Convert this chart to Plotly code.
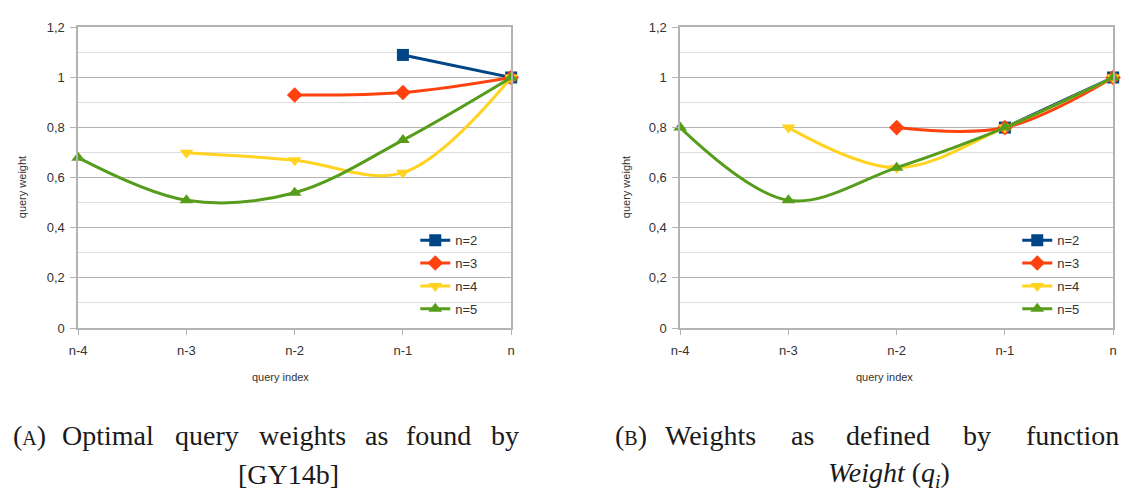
import plotly.graph_objects as go

W, H = 1129, 498

# ---- data ----
categories = ["n-4", "n-3", "n-2", "n-1", "n"]
series_names = ["n=2", "n=3", "n=4", "n=5"]
colors = ["#004586", "#ff420e", "#ffd320", "#579d1c"]
symbols = ["square", "diamond", "triangle-down", "triangle-up"]

# chart A: optimal query weights (values at the last k query positions)
a_n2 = [1.09, 1.0]
a_n3 = [0.93, 0.94, 1.0]
a_n4 = [0.70, 0.67, 0.62, 1.0]
a_n5 = [0.68, 0.51, 0.54, 0.75, 1.0]

# chart B: weights as defined by Weight(q_i)
b_n2 = [0.8, 1.0]
b_n3 = [0.8, 0.8, 1.0]
b_n4 = [0.8, 0.64, 0.8, 1.0]
b_n5 = [0.8, 0.51, 0.64, 0.8, 1.0]

y_ticks = [0, 0.2, 0.4, 0.6, 0.8, 1.0, 1.2]
y_ticktext = ["0", "0,2", "0,4", "0,6", "0,8", "1", "1,2"]

fig = go.Figure()

def add_series(values_list, xa, ya, legend, tag):
    for name, vals, col, sym in zip(series_names, values_list, colors, symbols):
        xs = list(range(len(categories) - len(vals), len(categories)))
        fig.add_trace(go.Scatter(
            x=xs, y=vals, name=name, mode="lines+markers",
            line=dict(color=col, width=3, shape="spline", smoothing=1),
            marker=dict(color=col, symbol=sym, size=12, line=dict(width=0)),
            xaxis=xa, yaxis=ya, legend=legend, legendgroup=tag + name,
            cliponaxis=False,
        ))

add_series([a_n2, a_n3, a_n4, a_n5], "x", "y", "legend", "a")
add_series([b_n2, b_n3, b_n4, b_n5], "x2", "y2", "legend2", "b")

def px_x(p):
    return p / W

def px_y(p):
    return 1 - p / H

grid_major = "#b3b3b3"
grid_minor = "#dedede"
axis_font = dict(family="Liberation Sans", size=13, color="#333333")

def xaxis(domain, anchor):
    return dict(domain=domain, anchor=anchor, range=[0, 4],
                tickmode="array", tickvals=list(range(len(categories))),
                ticktext=categories, showgrid=False, zeroline=False,
                showline=True, linecolor=grid_major, linewidth=1.5, mirror=True,
                ticks="outside", ticklen=5, tickcolor=grid_major,
                ticklabelstandoff=5,
                tickfont=axis_font, fixedrange=True)

def yaxis(anchor):
    return dict(domain=[px_y(331), px_y(21)], anchor=anchor, range=[0, 1.2],
                tickmode="array", tickvals=y_ticks, ticktext=y_ticktext,
                showgrid=True, gridcolor=grid_major, gridwidth=1,
                zeroline=False, showline=True, linecolor=grid_major,
                linewidth=1.5, mirror=True, ticks="outside", ticklen=6,
                tickcolor=grid_major, tickfont=axis_font,
                ticklabelstandoff=3,
                minor=dict(dtick=0.1, tick0=0, showgrid=True,
                           gridcolor=grid_minor, gridwidth=1, ticks=""),
                fixedrange=True)

legend_common = dict(font=dict(family="Liberation Sans", size=13, color="#333333"),
                     bgcolor="rgba(0,0,0,0)", borderwidth=0,
                     xanchor="left", yanchor="top", tracegroupgap=3,
                     itemclick=False, itemdoubleclick=False)

fig.update_layout(
    width=W, height=H,
    margin=dict(l=0, r=0, t=0, b=0),
    paper_bgcolor="white", plot_bgcolor="white",
    xaxis=xaxis([px_x(70), px_x(508)], "y"),
    yaxis=yaxis("x"),
    xaxis2=xaxis([px_x(679), px_x(1117)], "y2"),
    yaxis2=yaxis("x2"),
    legend=dict(x=px_x(411), y=px_y(225), **legend_common),
    legend2=dict(x=px_x(1020), y=px_y(225), **legend_common),
    showlegend=True,
)

small = dict(family="Liberation Sans", size=11, color="#333333")
annots = [
    dict(text="query index", x=px_x(275), y=px_y(381)),
    dict(text="query index", x=px_x(886), y=px_y(381)),
    dict(text="query weight", x=px_x(14), y=px_y(186), textangle=-90),
    dict(text="query weight", x=px_x(625), y=px_y(186), textangle=-90),
]
for a in annots:
    fig.add_annotation(xref="paper", yref="paper", showarrow=False,
                       xanchor="center", yanchor="middle", font=small, **a)

# ---- captions (justified words placed individually) ----
cap_font = dict(family="Liberation Serif", size=28, color="#1a1a1a")
sc = "<span style='font-size:20px'>{}</span>"
line1_y = 442
line2_y = 482
caption_words = [
    ("(" + sc.format("A") + ")", 20.6, line1_y),
    ("Optimal", 100, line1_y),
    ("query", 200, line1_y),
    ("weights", 297, line1_y),
    ("as", 371.5, line1_y),
    ("found", 435, line1_y),
    ("by", 501.5, line1_y),
    ("[GY14b]", 283, line2_y),
    ("(" + sc.format("B") + ")", 629.7, line1_y),
    ("Weights", 710, line1_y),
    ("as", 802.7, line1_y),
    ("defined", 889.5, line1_y),
    ("by", 979.5, line1_y),
    ("function", 1076, line1_y),
    ("<i>Weight</i> (<i>q</i><sub><i>i</i></sub>)", 890, line2_y),
]
for txt, cx, cy in caption_words:
    fig.add_annotation(xref="paper", yref="paper", showarrow=False,
                       x=px_x(cx), y=px_y(cy), xanchor="center", yanchor="middle",
                       text=txt, font=cap_font)

fig.write_html("out.html")
